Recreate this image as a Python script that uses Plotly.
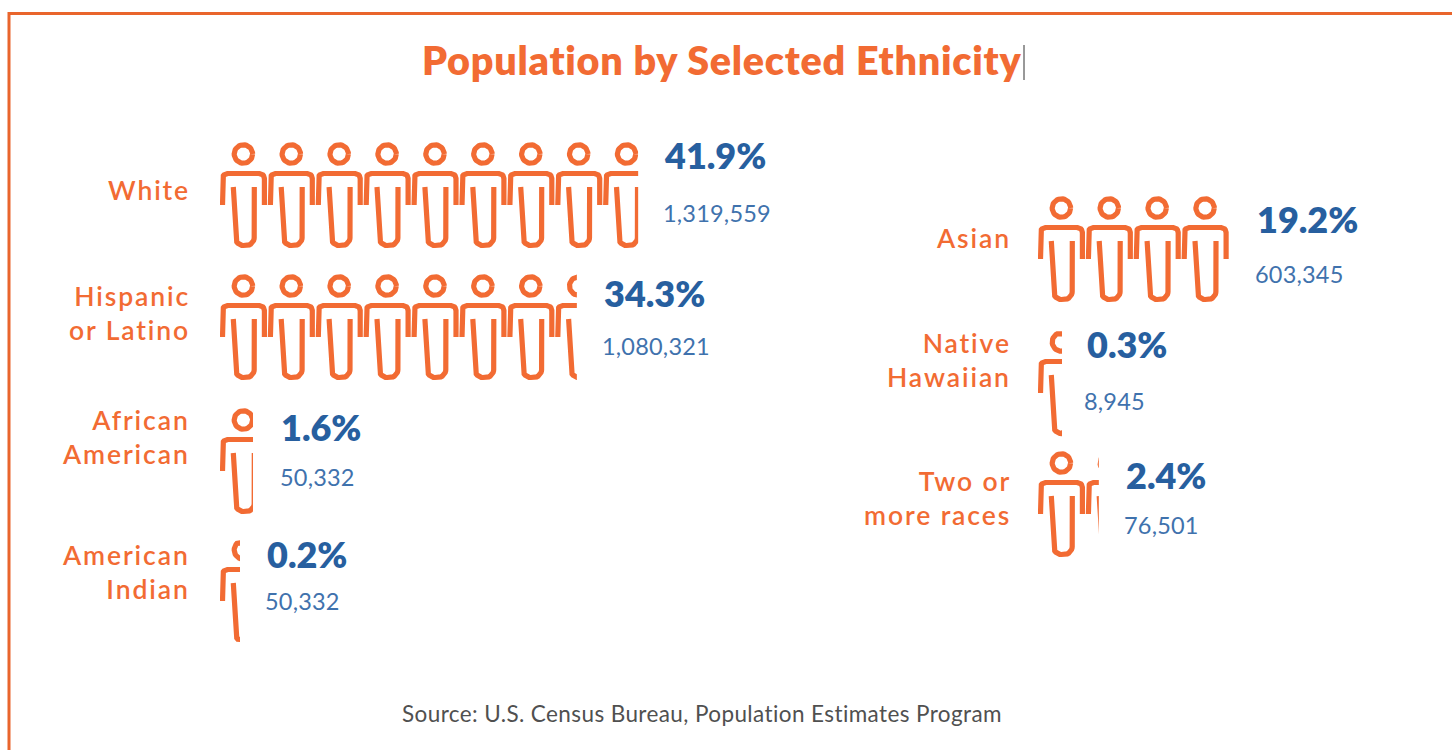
import math
import plotly.graph_objects as go

# ---- data ----
categories = ["White", "Hispanic<br>or Latino", "African<br>American", "American<br>Indian",
              "Asian", "Native<br>Hawaiian", "Two or<br>more races"]
percents = [41.9, 34.3, 1.6, 0.2, 19.2, 0.3, 2.4]
populations = [1319559, 1080321, 50332, 50332, 603345, 8945, 76501]
icons_shown = [8.73, 7.45, 0.69, 0.42, 4.0, 0.5, 1.27]

# ---- layout (pixels) ----
W, H = 1452, 750
PITCH = 47.9
ROW_H = 112
row_left = [220, 220, 220, 220, 1038, 1038, 1038]
head_y = [154, 286, 420, 550, 208, 342, 463]
label_y = [190, 313, 437, 572, 238, 360, 498]
pct_pos = [(663, 155), (603, 293), (280, 427), (266, 554), (1256, 219), (1086, 344), (1125, 475)]
val_pos = [(662, 213), (601, 346), (279, 477), (264, 601), (1254, 274), (1083, 401), (1123, 525)]

ORANGE = "#f26b33"
BLUE = "#275f9f"
BLUE2 = "#3f72ad"
FONT = "Lato"
LW = 5.2


def arc(cx, cy, r, a0, a1, n=8):
    return [(cx + r * math.cos(math.radians(a0 + (a1 - a0) * i / n)),
             cy + r * math.sin(math.radians(a0 + (a1 - a0) * i / n))) for i in range(n + 1)]


HEAD = arc(23.4, 14, 9.2, 0, 360, 40)
SHOULDERS = [(2.5, 65)] + arc(7.5, 38.5, 5, 180, 270) + arc(39.4, 38.5, 5, 270, 360) + [(44.4, 65)]
LEGS = [(13.3, 47), (15.6, 97)] + arc(23.4, 97.5, 8, 180, 90) + arc(26.2, 97.5, 8, 90, 0) + [(34.3, 47)]


def px(x):
    return x / W


def py(y):
    return 1 - y / H


fig = go.Figure()
layout_axes = {}

for i, shown in enumerate(icons_shown):
    xs, ys = [], []
    for k in range(math.ceil(shown)):
        for part in (HEAD, SHOULDERS, LEGS):
            xs += [k + p[0] / PITCH for p in part] + [None]
            ys += [p[1] for p in part] + [None]
    suffix = "" if i == 0 else str(i + 1)
    fig.add_trace(go.Scatter(x=xs, y=ys, mode="lines", hoverinfo="skip", showlegend=False,
                             line=dict(color=ORANGE, width=LW),
                             xaxis="x" + suffix, yaxis="y" + suffix))
    top = head_y[i] - 14
    layout_axes["xaxis" + suffix] = dict(
        domain=[px(row_left[i]), px(row_left[i] + shown * PITCH)],
        range=[0, shown], visible=False, anchor="y" + suffix, fixedrange=True)
    layout_axes["yaxis" + suffix] = dict(
        domain=[py(top + ROW_H), py(top)],
        range=[ROW_H, 0], visible=False, anchor="x" + suffix, fixedrange=True)

annotations = []


def note(text, x, y, size, color, anchor="left", weight=400, family=FONT, spacing=0.0):
    if spacing:
        text = "<br>".join(f'<span style="letter-spacing:{spacing}px">{t}</span>' for t in text.split("<br>"))
    annotations.append(dict(text=text, x=px(x), y=py(y), xref="paper", yref="paper",
                            xanchor=anchor, yanchor="middle", showarrow=False, align=anchor,
                            borderpad=0,
                            font=dict(family=family, size=size, color=color, weight=weight)))


note("Population by Selected Ethnicity", 421, 59, 39.5, ORANGE, weight=800, spacing=0.75)
for i, cat in enumerate(categories):
    right = 191 if row_left[i] < 500 else 1012
    note(cat, right, label_y[i], 26.5, ORANGE, anchor="right", weight=600, spacing=1.9)
    note(f"{percents[i]}%", pct_pos[i][0], pct_pos[i][1], 36, BLUE, weight=800)
    note(f"{populations[i]:,}", val_pos[i][0], val_pos[i][1], 23.5, BLUE2, spacing=0.2)
note("Source: U.S. Census Bureau, Population Estimates Program", 401, 713, 22.5, "#505050", spacing=0.4)

frame = dict(type="line", xref="paper", yref="paper", line=dict(color="#e9652c", width=3))
shapes = [
    dict(frame, x0=px(9), x1=px(9), y0=py(12), y1=0),
    dict(frame, x0=px(8), x1=1, y0=py(13.5), y1=py(13.5)),
    dict(type="line", xref="paper", yref="paper", x0=px(1024), x1=px(1024), y0=py(45), y1=py(80),
         line=dict(color="#333333", width=1)),
]

fig.update_layout(width=W, height=H, margin=dict(l=0, r=0, t=0, b=0),
                  paper_bgcolor="white", plot_bgcolor="rgba(0,0,0,0)",
                  showlegend=False, annotations=annotations, shapes=shapes, **layout_axes)

fig.write_html("out.html", config={"displayModeBar": False},
               post_script="document.body.style.margin='0';")
